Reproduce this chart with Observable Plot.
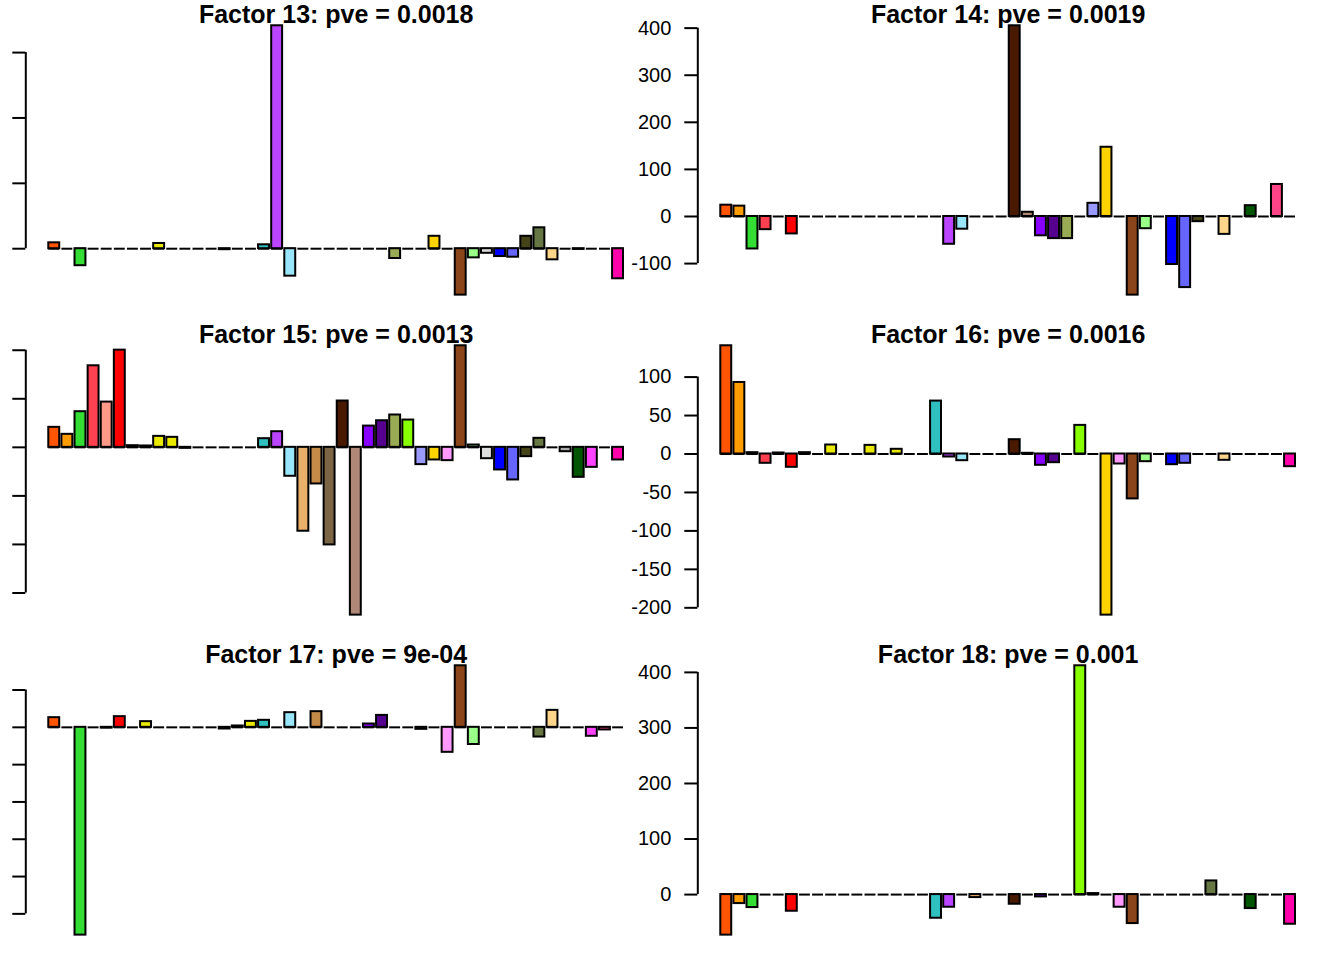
<!DOCTYPE html>
<html>
<head>
<meta charset="utf-8">
<script src="https://cdn.jsdelivr.net/npm/d3@7"></script>
<script src="https://cdn.jsdelivr.net/npm/@observablehq/plot@0.6"></script>
<style>
  html, body { margin: 0; padding: 0; background: #fff; }
  #wrap { position: relative; width: 1344px; height: 960px; overflow: hidden; background: #fff; }
  #wrap svg { position: absolute; }
</style>
</head>
<body>
<div id="wrap"></div>
<script>
// Bar fill colours, one per category (44 categories, in order)
const colors = [
  "#FF5500", "#FF9C00", "#33DD33", "#FF4050", "#FF9988", "#FF0000",
  "#EAEA00", "#EAEA00", "#EAEA00", "#EAEA00", "#EAEA00", "#EAEA00",
  "#EAEA00", "#EAEA00", "#EAEA00", "#EAEA00", "#30C0C0", "#BB44FF",
  "#99E6FA", "#E8B068", "#C48A48", "#7B6545", "#4A1A00", "#B08878",
  "#8800FF", "#560090", "#99AA55", "#88FF00", "#9999FF", "#FFD300",
  "#FF99FF", "#8B451A", "#99FF88", "#DDDDDD", "#0000FF", "#6666FF",
  "#444418", "#667744", "#FFD58A", "#AAAAAA", "#005500", "#FF44FF",
  "#FF4488", "#FF00AA"
];

// Panel titles
const titles = [
  "Factor 13: pve = 0.0018", "Factor 14: pve = 0.0019",
  "Factor 15: pve = 0.0013", "Factor 16: pve = 0.0016",
  "Factor 17: pve = 9e-04",  "Factor 18: pve = 0.001"
];

// Loadings per factor (44 values each)
const f13 = [9,0,-26,0,0,0,0,0,8,0,0,0,0,-1.5,0,0,6,341,-42,0,0,0,0,0,0,0,-15,0,0,19,0,-71,-14,-7,-12,-13,19,32,-17,0,-1,0,0,-46];
const f14 = [24,22,-69,-28,0,-37,0,0,0,0,0,0,0,0,0,0,0,-59,-27,0,0,0,405,9,-41,-47,-47,0,28,147,0,-167,-26,0,-102,-151,-11,0,-38,0,23,0,68,0];
const f15 = [20.6,13.4,36.7,84,46.6,100.1,1.7,1.4,11.3,10.3,-1,0,0,0,0,0,8.9,16.1,-29.8,-86.4,-37.7,-100.5,47.7,-172.8,21.9,27.4,33.3,28.1,-17.8,-13,-13.7,104.6,2.4,-11.7,-23.3,-33.6,-9.6,9.3,0,-4.5,-30.9,-20.6,0,-13];
const f16 = [140.7,93,1.7,-12.1,1.3,-17.3,1.7,0,11.7,0,0,11.2,0,6.1,0,0,68.8,-3.9,-8.7,0,0,0,18.6,0.9,-14.7,-11.3,0,37.2,0,-209.5,-13,-58.4,-10,0,-13.9,-12.1,0,0,-8.2,0,0,0,0,-16.5];
const f17 = [25.9,0,-557,0,-2,28.6,0,15.2,0,0,0,0,0,-4.5,3.6,16,18.8,0,39.3,0,42,0,0,0,8.9,32,0,0,-5.4,0,-67,165,-46,0,0,0,0,-26,45.5,0,0,-24,-7,0];
const f18 = [-73,-16.2,-23.4,0,0,-30,0,0,0,0,0,0,0,0,0,0,-42.6,-22.8,0,-5.4,0,0,-17.4,0,-4.2,0,0,411.9,1.8,0,-22.8,-52.2,0,0,0,0,0,24.6,0,0,-25.2,0,0,-53.4];

// Y tick values per panel
const ticks13 = [0, 100, 200, 300];
const ticks14 = [-100, 0, 100, 200, 300, 400];
const ticks15 = [-150, -100, -50, 0, 50, 100];
const ticks16 = [-200, -150, -100, -50, 0, 50, 100];
const ticks17 = [-500, -400, -300, -200, -100, 0, 100];
const ticks18 = [0, 100, 200, 300, 400];

const panels = [
  {title: titles[0], values: f13, ticks: ticks13, labels: false},
  {title: titles[1], values: f14, ticks: ticks14, labels: true},
  {title: titles[2], values: f15, ticks: ticks15, labels: false},
  {title: titles[3], values: f16, ticks: ticks16, labels: true},
  {title: titles[4], values: f17, ticks: ticks17, labels: false},
  {title: titles[5], values: f18, ticks: ticks18, labels: true}
];

// barplot geometry (width 1, space 0.2), 4% axis expansion like R
const n = colors.length;
const left = 0.2, right = n * 1.2;
const xpad = 0.04 * (right - left);
const xDomain = [left - xpad, right + xpad];

const wrap = document.getElementById("wrap");
const W = 672, H = 320;
const LW = 2;

panels.forEach((p, k) => {
  const rows = p.values.map((v, i) => ({v, color: colors[i], x1: i * 1.2 + 0.2, x2: i * 1.2 + 1.2}));
  const lo = Math.min(0, d3.min(p.values)), hi = Math.max(0, d3.max(p.values));
  const r = hi - lo;
  const yDomain = [lo - 0.04 * r, hi + 0.04 * r];
  const chart = Plot.plot({
    width: W, height: H,
    marginLeft: 25.3, marginRight: 26, marginTop: 14.5, marginBottom: 14.6,
    style: {background: "transparent", fontFamily: "'Liberation Sans', Arial, Helvetica, sans-serif", overflow: "visible"},
    x: {domain: xDomain, axis: null},
    y: {domain: yDomain, axis: null},
    color: {type: "identity"},
    marks: [
      Plot.ruleY(rows, {x1: d => d.x1, x2: d => d.x2, y: 0, stroke: "black", strokeWidth: LW}),
      Plot.rectY(rows.filter(d => d.v !== 0), {x1: d => d.x1, x2: d => d.x2, y1: 0, y2: d => d.v, fill: d => d.color, stroke: "black", strokeWidth: LW}),
      Plot.ruleX([xDomain[0]], {y1: d3.min(p.ticks), y2: d3.max(p.ticks), stroke: "black", strokeWidth: LW}),
      Plot.axisY({
        ticks: p.ticks, anchor: "left", label: null,
        tickSize: 13, tickPadding: 13.5, fontSize: 20, strokeWidth: LW,
        stroke: "black", fill: "black",
        tickFormat: p.labels ? (d => String(d)) : (() => "")
      }),
      Plot.text([p.title], {frameAnchor: "top", lineAnchor: "bottom", dy: 7.7, fontSize: 25, fontWeight: "bold", fill: "black"})
    ]
  });
  chart.style.left = ((k % 2) * W) + "px";
  chart.style.top = (Math.floor(k / 2) * H) + "px";
  wrap.appendChild(chart);
});
</script>
</body>
</html>
